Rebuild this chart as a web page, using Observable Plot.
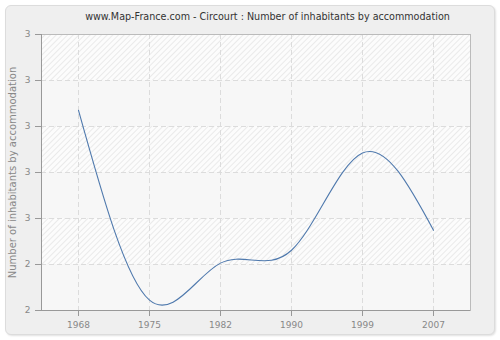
<!DOCTYPE html>
<html>
<head>
<meta charset="utf-8">
<script src="https://cdn.jsdelivr.net/npm/d3@7"></script>
<script src="https://cdn.jsdelivr.net/npm/@observablehq/plot@0.6"></script>
<style>
  html, body { margin: 0; padding: 0; background: #ffffff; }
  #wrap { position: relative; width: 500px; height: 340px; overflow: hidden; font-family: "DejaVu Sans", Verdana, sans-serif; }
  #panel { position: absolute; left: 5px; top: 5px; width: 488px; height: 328px; background: #efefef; border: 1px solid #dcdcdc; border-radius: 6px; box-shadow: 1px 1px 2px rgba(0,0,0,0.12); }
  #title { position: absolute; left: 0; top: 11px; width: 535px; text-align: center; font-size: 9.6px; color: #333; white-space: nowrap; }
  #chart { position: absolute; left: 0; top: 0; }
</style>
</head>
<body>
<svg width="0" height="0" style="position:absolute">
  <defs>
    <pattern id="hatch" width="4" height="4" patternUnits="userSpaceOnUse" patternTransform="rotate(45)">
      <rect width="4" height="4" fill="#fcfcfc"></rect>
      <line x1="0" y1="0" x2="0" y2="4" stroke="#e6e6e6" stroke-width="1.6"></line>
    </pattern>
  </defs>
</svg>
<div id="wrap">
  <div id="panel"></div>
  <div id="title">www.Map-France.com - Circourt : Number of inhabitants by accommodation</div>
  <div id="chart"></div>
</div>
<script>
const years = ["1968", "1975", "1982", "1990", "1999", "2007"];
const values = [3.07, 2.245, 2.406, 2.462, 2.885, 2.549];
const yTicks = [2.2, 2.4, 2.6, 2.8, 3.0, 3.2, 3.4];
const hatchBandStarts = [2.4, 2.8, 3.2];
const bandSize = 0.2;
const yLabel = "Number of inhabitants by accommodation";

const data = years.map((y, i) => ({year: y, value: values[i]}));

const chart = Plot.plot({
  width: 500,
  height: 340,
  marginTop: 34,
  marginRight: 30,
  marginBottom: 30,
  marginLeft: 41,
  style: {background: "transparent", fontFamily: "'DejaVu Sans', Verdana, sans-serif", fontSize: "9px", color: "#888"},
  x: {type: "point", domain: years, padding: 0.5},
  y: {domain: [2.2, 3.4]},
  marks: [
    Plot.frame({fill: "#f7f7f7", stroke: null}),
    Plot.rect(hatchBandStarts, {y1: d => d, y2: d => d + bandSize, fill: "url(#hatch)"}),
    Plot.gridY(yTicks, {stroke: "#dcdcdc", strokeOpacity: 1, strokeDasharray: "5,3"}),
    Plot.gridX(years, {stroke: "#dcdcdc", strokeOpacity: 1, strokeDasharray: "5,3"}),
    Plot.frame({stroke: "#bbb"}),
    Plot.ruleY([2.2], {stroke: "#999"}),
    Plot.frame({anchor: "left", stroke: "#999"}),
    Plot.axisX(years, {tickSize: 6, tickPadding: 5, label: null, stroke: "#999", fill: "#888", fontSize: 9}),
    Plot.axisY(yTicks, {tickSize: 6, tickPadding: 5, tickFormat: d3.format(".0f"), label: null, stroke: "#999", fill: "#888", fontSize: 9}),
    Plot.axisY([], {label: yLabel, labelAnchor: "center", labelArrow: "none", labelOffset: 33, fill: "#888", fontSize: 10}),
    Plot.line(data, {x: "year", y: "value", curve: "natural", stroke: "#4f79ad", strokeWidth: 1.1})
  ]
});
document.getElementById("chart").appendChild(chart);
</script>
</body>
</html>
